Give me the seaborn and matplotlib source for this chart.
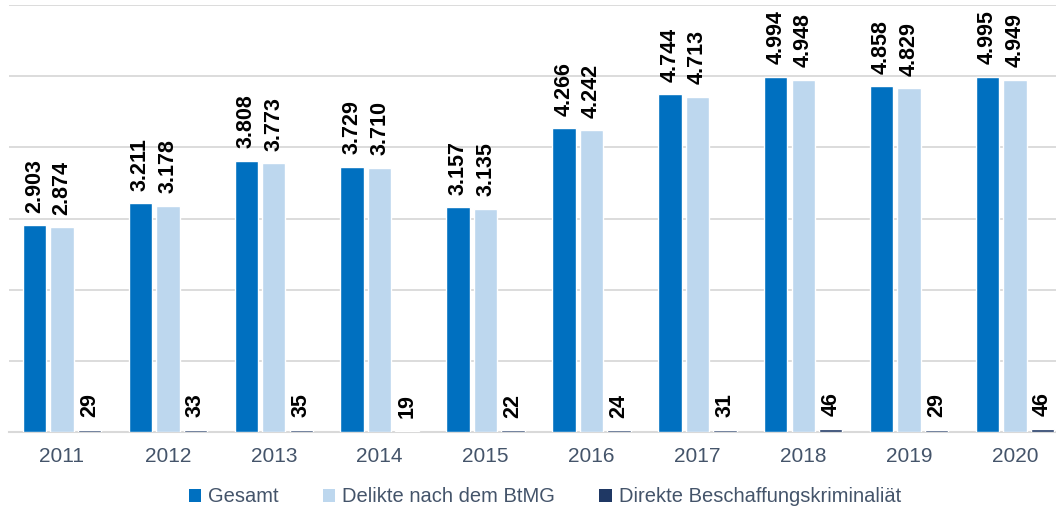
import pandas as pd
import numpy as np
import matplotlib.pyplot as plt
import seaborn as sns
from matplotlib.patches import Patch

years = ['2011', '2012', '2013', '2014', '2015', '2016', '2017', '2018', '2019', '2020']
gesamt = [2903, 3211, 3808, 3729, 3157, 4266, 4744, 4994, 4858, 4995]
delikte = [2874, 3178, 3773, 3710, 3135, 4242, 4713, 4948, 4829, 4949]
direkte = [29, 33, 35, 19, 22, 24, 31, 46, 29, 46]
series_names = ['Gesamt', 'Delikte nach dem BtMG', 'Direkte Beschaffungskriminaliät']
colors = ['#0070C0', '#BDD7EE', '#1F3864']

df = pd.DataFrame({
    'Jahr': years * 3,
    'Wert': gesamt + delikte + direkte,
    'Reihe': [series_names[0]] * 10 + [series_names[1]] * 10 + [series_names[2]] * 10,
})

sns.set_style('white')
plt.rcParams['font.family'] = ['Liberation Sans', 'DejaVu Sans']

fig = plt.figure(figsize=(10.56, 5.13), dpi=100)
# axes runs a bit past the right edge, like the reference which is cut off
ax = fig.add_axes([9 / 1056, 81 / 513, 1059 / 1056, 427 / 513])

sns.barplot(data=df, x='Jahr', y='Wert', hue='Reihe', palette=colors,
            width=0.78, gap=0.15, ax=ax, saturation=1, legend=False)

ax.set_xlim(-0.5, 9.5)
ax.set_ylim(0, 6000)
ax.set_yticks(np.arange(0, 6001, 1000))
ax.set_yticklabels([])
ax.tick_params(axis='y', length=0)
ax.tick_params(axis='x', length=0, labelsize=15, colors='#44546A', pad=11)
ax.grid(axis='y', color='#D9D9D9', linewidth=1.3)
ax.set_axisbelow(True)
for s in ['top', 'right', 'left']:
    ax.spines[s].set_visible(False)
ax.spines['bottom'].set_color('#D9D9D9')
ax.spines['bottom'].set_linewidth(1.5)
ax.spines['bottom'].set_zorder(0.5)
ax.set_xlabel('')
ax.set_ylabel('')

all_vals = [gesamt, delikte, direkte]
for cont, vals in zip(ax.containers, all_vals):
    labels = [f'{v:,}'.replace(',', '.') for v in vals]
    ax.bar_label(cont, labels=labels, rotation=90, padding=9,
                 fontsize=15.5, fontweight='bold', color='black')

handles = [Patch(facecolor=c, edgecolor='none') for c in colors]
fig.legend(handles, series_names, loc='center', bbox_to_anchor=(545 / 1056, 1 - 497 / 513),
           ncol=3, frameon=False, fontsize=14.5, handlelength=0.6, handleheight=0.6,
           handletextpad=0.35, columnspacing=2.2, labelcolor='#44546A')

plt.savefig('out.png', dpi=100)
